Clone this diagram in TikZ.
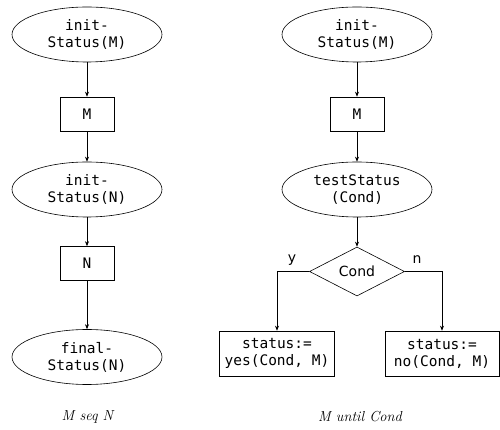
\documentclass[tikz,border=0pt]{standalone}
\usepackage{fontspec}
\setmonofont{DejaVu Sans Mono}
\setsansfont{DejaVu Sans}
\usetikzlibrary{shapes.geometric,arrows.meta}
\begin{document}
\begin{tikzpicture}[x=1pt,y=1pt,
  every node/.style={font=\ttfamily\fontsize{14.5}{17}\selectfont, align=center},
  ell/.style={draw, ellipse, minimum width=150pt, minimum height=55pt, inner sep=0pt},
  boxn/.style={draw, rectangle, minimum width=54pt, minimum height=34pt, inner sep=0pt},
  resbox/.style={draw, rectangle, minimum height=45pt, minimum width=114pt, inner xsep=5pt, inner ysep=0pt},
  dia/.style={draw, diamond, minimum width=95pt, minimum height=49pt, inner sep=0pt, aspect=2},
  captxt/.style={font=\rmfamily\itshape\fontsize{14.5}{17}\selectfont},
  lbl/.style={font=\sffamily\fontsize{14}{16}\selectfont},
  arr/.style={-{Stealth[length=5pt,width=4pt]}, line width=0.6pt},
  line width=0.6pt]
\useasboundingbox (0,0) rectangle (500,430);
% left column
\node[ell] (li) at (87,395.5) {init-\\Status(M)};
\node[boxn] (lm) at (87,316) {M};
\node[ell] (ln) at (87,240.5) {init-\\Status(N)};
\node[boxn] (lnb) at (87,166.5) {N};
\node[ell] (lf) at (87,73) {final-\\Status(N)};
\node[captxt] (c1) at (87.5,13) {M seq N};
\draw[arr] (li) -- (lm);
\draw[arr] (lm) -- (ln);
\draw[arr] (ln) -- (lnb);
\draw[arr] (lnb) -- (lf);
% right column
\node[ell] (ri) at (357,395.5) {init-\\Status(M)};
\node[boxn] (rm) at (357,316) {M};
\node[ell] (rt) at (357,240.5) {testStatus\\(Cond)};
\node[dia, font=\sffamily\fontsize{14}{16}\selectfont] (rc) at (357,158.5) {Cond};
\node[resbox] (ry) at (277,76.5) {status:=\\yes(Cond, M)};
\node[resbox] (rn) at (442,76.5) {status:=\\no(Cond, M)};
\node[captxt] (c2) at (360,13) {M until Cond};
\draw[arr] (ri) -- (rm);
\draw[arr] (rm) -- (rt);
\draw[arr] (rt) -- (rc);
\draw[arr] (rc.west) -| (ry.north);
\draw[arr] (rc.east) -| (rn.north);
\node[lbl] (ly) at (292,170) {y};
\node[lbl] (ln2) at (417,170) {n};
\end{tikzpicture}
\end{document}
